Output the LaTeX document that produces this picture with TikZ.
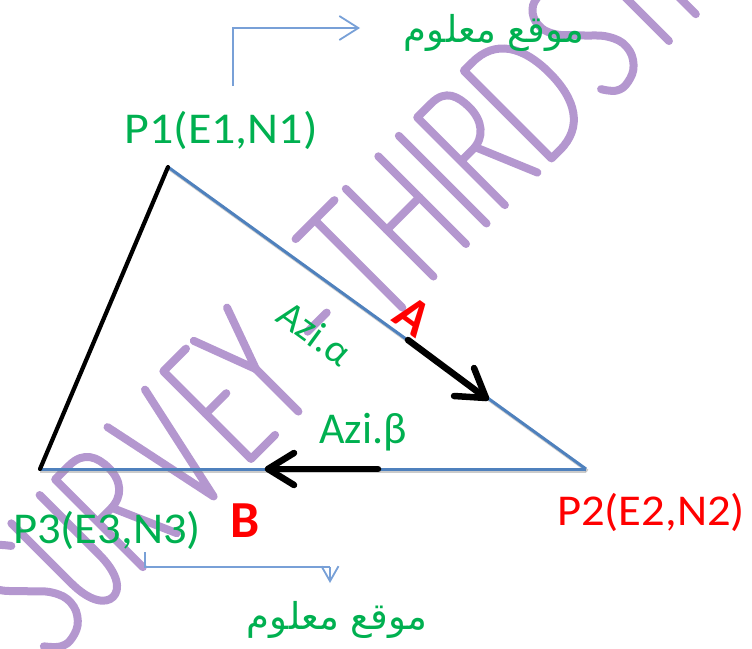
\documentclass[tikz,border=0pt]{standalone}
\usepackage{fontspec}
\usepackage{graphicx}
\setmainfont{Carlito}
\newfontfamily\arabicfont[Script=Arabic]{DejaVu Sans}
\TeXXeTstate=1
\usetikzlibrary{arrows.meta}
\definecolor{txtgreen}{RGB}{0,176,80}
\definecolor{txtred}{RGB}{255,0,0}
\definecolor{lineblue}{RGB}{79,129,189}
\definecolor{thinblue}{RGB}{120,160,215}
\definecolor{wmpurple}{RGB}{180,151,207}
\tikzset{
  lbl/.style={font=\fontsize{44}{50}\selectfont, inner sep=0pt, anchor=base},
  greenlbl/.style={lbl, text=txtgreen},
  redlbl/.style={lbl, text=txtred},
  bigletter/.style={font=\fontsize{52}{58}\selectfont\bfseries, text=txtred, inner sep=0pt},
  arlbl/.style={font=\fontsize{37}{43}\selectfont\arabicfont, text=txtgreen, inner sep=0pt},
  mainblue/.style={draw=lineblue, line width=3pt},
  shadowline/.style={draw=black!45, line width=3.2pt, opacity=0.45},
  sideblack/.style={draw=black, line width=4.2pt},
  dirarrow/.style={draw=black, line width=6.5pt, line cap=round, line join=round},
  elbow/.style={draw=thinblue, line width=1.8pt},
  wm/.style={draw=wmpurple, line width=8pt, line cap=round, line join=round}
}
\begin{document}
\begin{tikzpicture}[x=1pt, y=-1pt]
\useasboundingbox (0,0) rectangle (752,648);

% ---------- watermark "SURVEY-THIRD ST..." ----------
\begin{scope}[shift={(355,355)}, x={(0.7071pt,0.7071pt)}, y={(-0.7071pt,0.7071pt)}]
  % S
  \draw[wm] plot[smooth, tension=0.7] coordinates {(-378,108) (-390,121) (-402,124) (-416,119) (-423,104) (-418,86) (-400,66) (-382,46) (-376,26) (-384,8) (-400,0) (-414,2) (-426,14)};
  % U
  \draw[wm] (-362,124) -- (-362,40) .. controls (-362,12) and (-352,0) .. (-342,0) .. controls (-332,0) and (-322,12) .. (-322,40) -- (-322,124);
  % R
  \draw[wm] (-300,0) -- (-300,124) -- (-280,124) .. controls (-260,124) and (-254,110) .. (-254,94) .. controls (-254,76) and (-264,64) .. (-282,64) -- (-300,64);
  \draw[wm] (-280,64) -- (-252,0);
  % V
  \draw[wm] (-226,124) -- (-200,0) -- (-173,124);
  % E
  \draw[wm] (-115,124) -- (-147,124) -- (-147,0) -- (-113,0);
  \draw[wm] (-147,64) -- (-118,64);
  % Y
  \draw[wm] (-104,124) -- (-80,60) -- (-57,124);
  \draw[wm] (-80,60) -- (-80,0);
  % hyphen
  \draw[wm] (-17,50) -- (10,50);
  % T
  \draw[wm] (40,124) -- (95,124);
  \draw[wm] (67,124) -- (67,0);
  % H
  \draw[wm] (111,0) -- (111,124);
  \draw[wm] (157,0) -- (157,124);
  \draw[wm] (111,66) -- (157,66);
  % I
  \draw[wm] (186,0) -- (186,124);
  % R
  \draw[wm] (212,0) -- (212,124) -- (232,124) .. controls (252,124) and (256,110) .. (256,94) .. controls (256,76) and (246,62) .. (228,62) -- (212,62);
  \draw[wm] (232,62) -- (258,0);
  % D
  \draw[wm] (278,0) -- (278,124) -- (290,124) .. controls (322,124) and (337,100) .. (337,62) .. controls (337,24) and (322,0) .. (290,0) -- cycle;
  % S
  \draw[wm] plot[smooth, tension=0.7] coordinates {(408,108) (396,121) (384,124) (370,119) (363,104) (368,86) (386,66) (404,46) (410,26) (402,8) (386,0) (372,2) (362,14)};
  % T
  \draw[wm] (416,124) -- (472,124);
  \draw[wm] (444,124) -- (444,0);
  % next letter (cut off)
  \draw[wm] (482,0) -- (482,60);
\end{scope}

% ---------- vertices ----------
\coordinate (P1) at (168,167);
\coordinate (P2) at (586,469);
\coordinate (P3) at (40,469);

% ---------- triangle ----------
\draw[shadowline] ([shift={(1.5,2)}]P1) -- ([shift={(1.5,2)}]P2);
\draw[shadowline] ([shift={(0,2)}]P3) -- ([shift={(0,2)}]P2);
\draw[mainblue] (P1) -- (P2);
\draw[mainblue] (P3) -- (P2);
\draw[sideblack, line cap=round] (P1) -- (P3);

% ---------- direction arrows ----------
\coordinate (Astart) at (408,340);
\coordinate (Atip) at (486,398);
\coordinate (Aw1) at (454,396);
\coordinate (Aw2) at (474,368);
\draw[dirarrow] (Astart) -- (Atip);
\draw[dirarrow] (Aw1) -- (Atip) -- (Aw2);

\coordinate (Bstart) at (378,469);
\coordinate (Btip) at (268,469);
\coordinate (Bw1) at (294,453);
\coordinate (Bw2) at (294,485);
\draw[dirarrow] (Bstart) -- (Btip);
\draw[dirarrow] (Bw1) -- (Btip) -- (Bw2);

% ---------- labels ----------
\node[greenlbl] (p1lbl) at (221,143) {\scalebox{1.09}[1]{P1(E1,N1)}};
\node[redlbl] (p2lbl) at (651,525) {\scalebox{1.06}[1]{P2(E2,N2)}};
\node[greenlbl] (p3lbl) at (107,543) {\scalebox{1.06}[1]{P3(E3,N3)}};
\node[greenlbl] (azib) at (363,443) {Azi.β};
\node[text=txtgreen, font=\fontsize{40}{46}\selectfont, inner sep=0pt, rotate=-36] (azia) at (315,333) {Azi.α};
\node[bigletter, rotate=-36] (alab) at (413,316) {A};
\node[bigletter, anchor=base] (blab) at (245,537) {B};

% ---------- known-station notes ----------
\node[arlbl] (ar1) at (494,33) {\beginR موقع معلوم\endR};
\node[arlbl] (ar2) at (337,620) {\beginR موقع معلوم\endR};

\coordinate (e1a) at (233,86);
\coordinate (e1b) at (233,28);
\coordinate (e1c) at (360,28);
\draw[elbow, -{Straight Barb[length=19pt, width=24pt, line width=1.8pt]}] (e1a) -- (e1b) -- (e1c);

\coordinate (e2a) at (145,552);
\coordinate (e2b) at (145,567);
\coordinate (e2c) at (330,567);
\coordinate (e2d) at (330,583);
\draw[elbow] (e2a) -- (e2b) -- (e2c);
\draw[elbow, -{Straight Barb[length=15pt, width=17pt, line width=1.8pt]}] (e2c) -- (e2d);
\end{tikzpicture}
\end{document}
